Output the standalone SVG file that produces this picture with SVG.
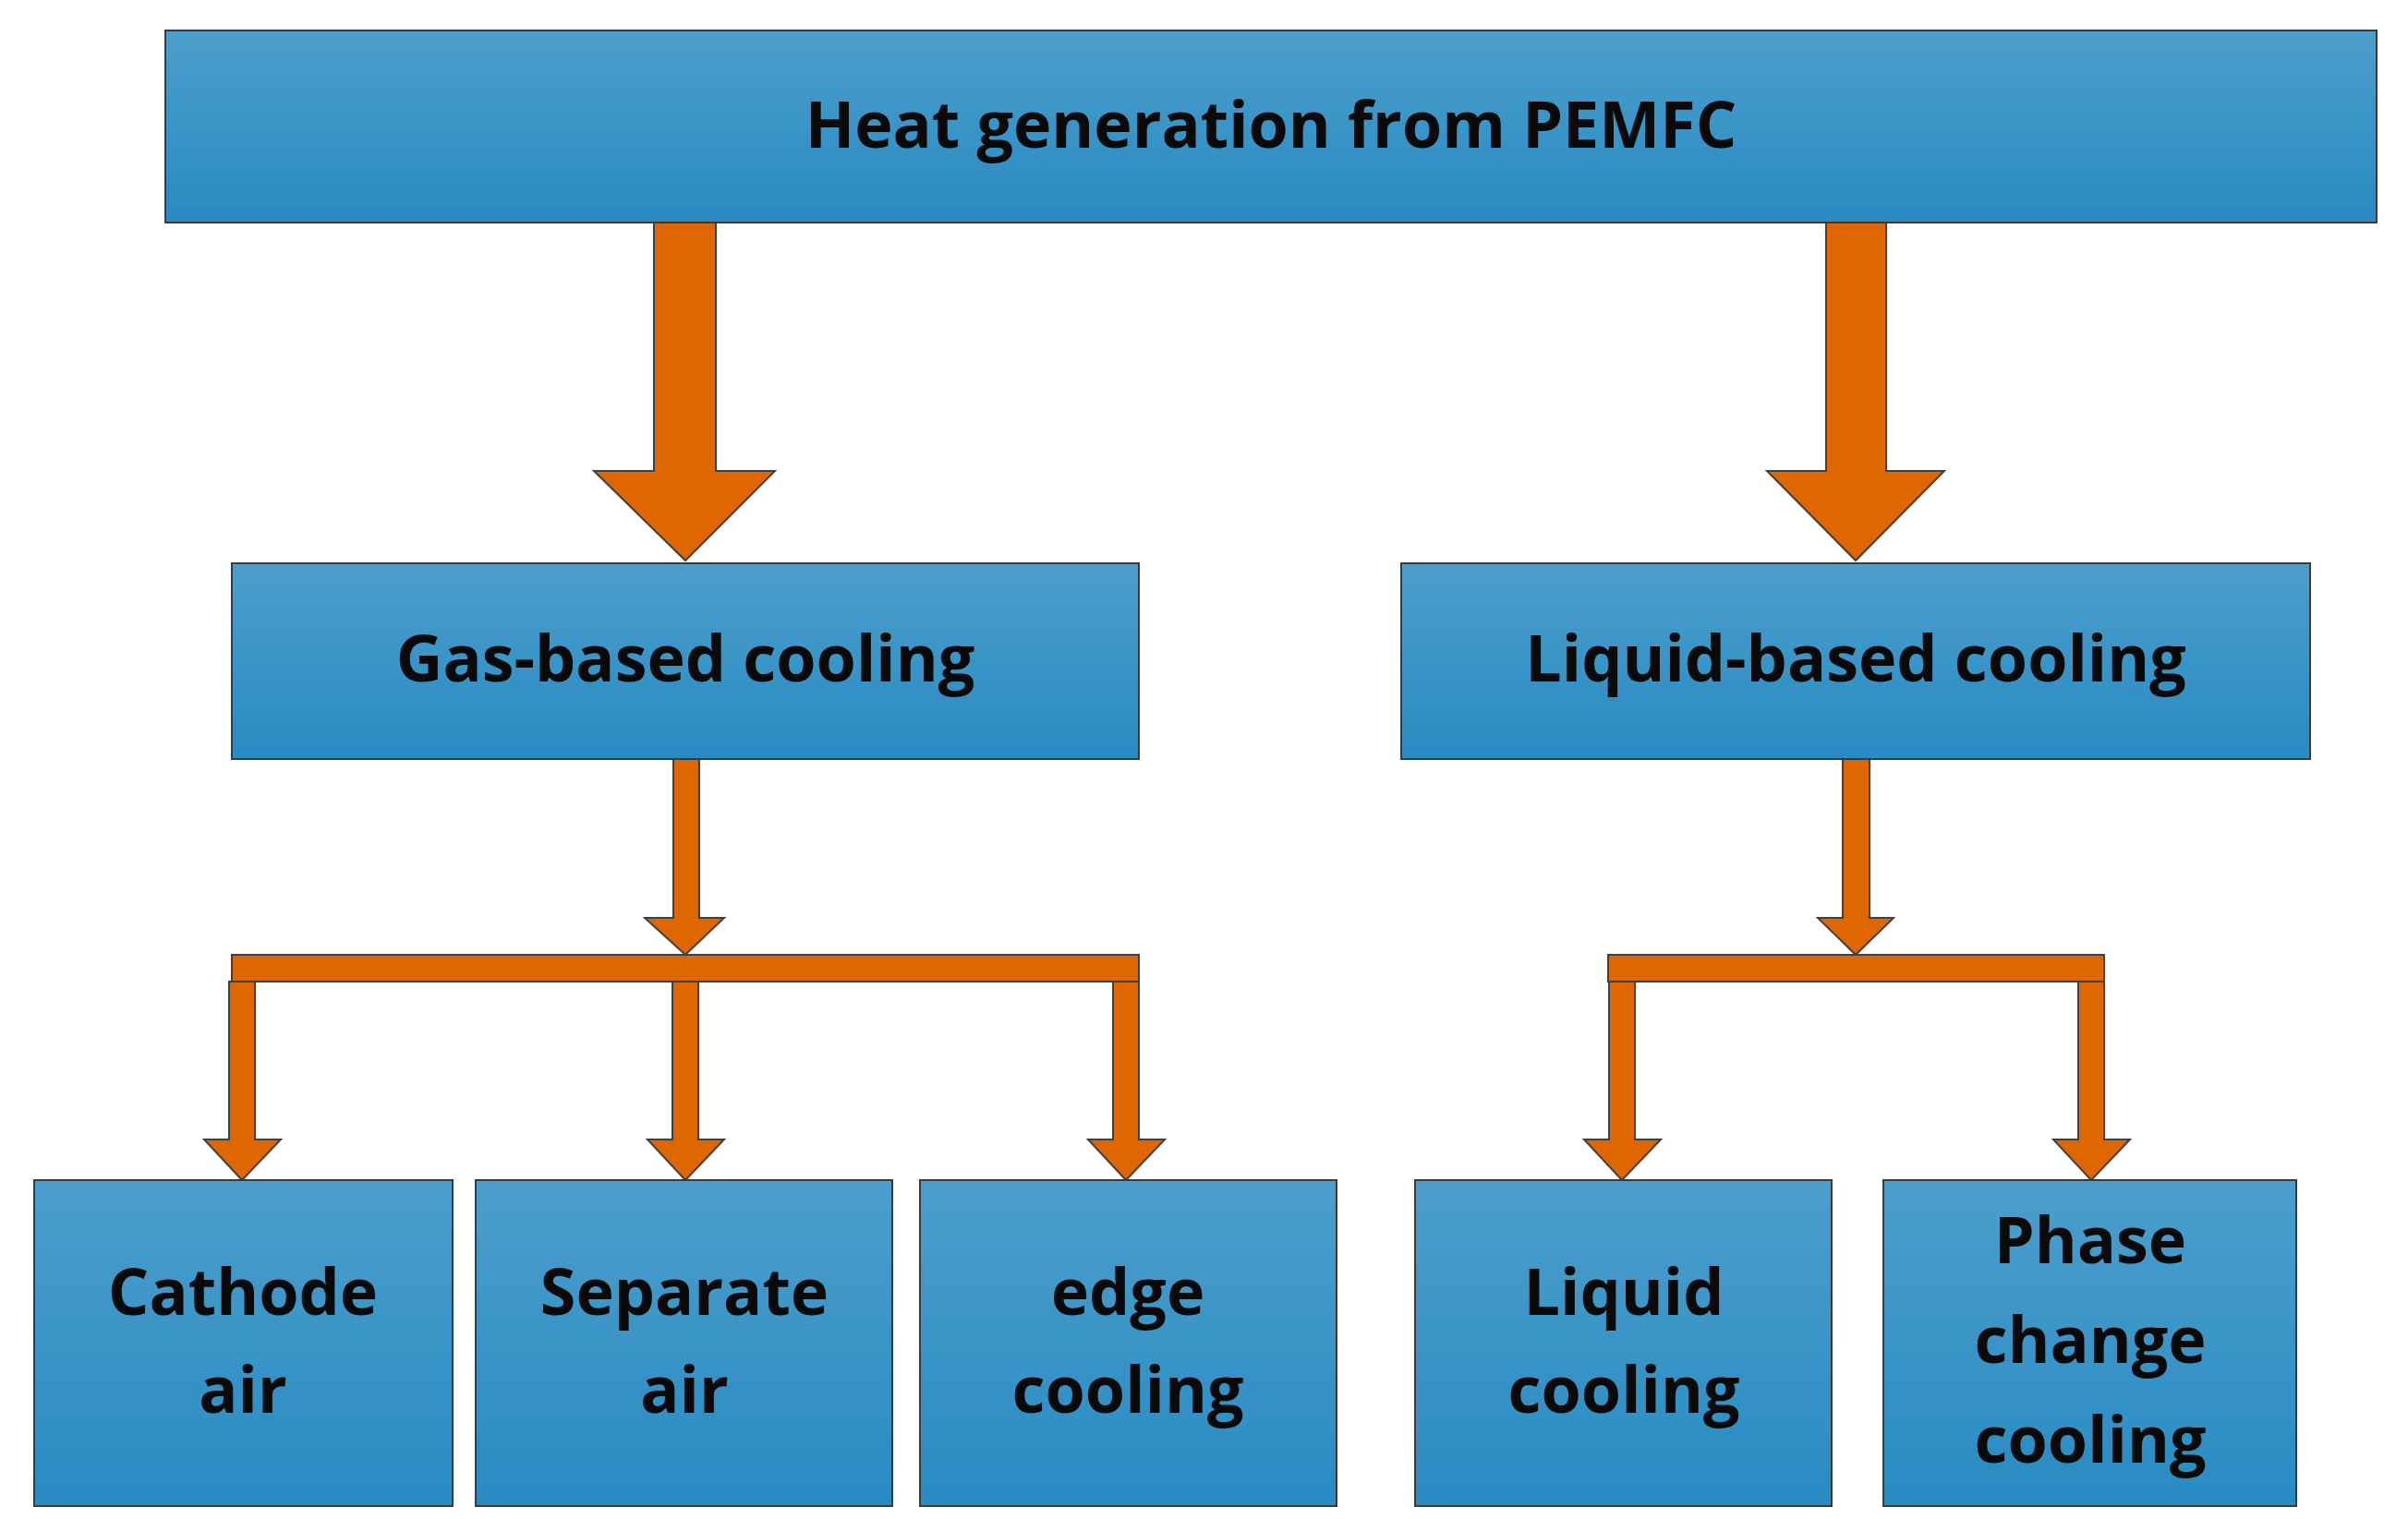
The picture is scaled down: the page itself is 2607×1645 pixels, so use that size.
<svg xmlns="http://www.w3.org/2000/svg" width="2607" height="1645" viewBox="0 0 2607 1645">
<defs>
<linearGradient id="bg" x1="0" y1="0" x2="0" y2="1"><stop offset="0" stop-color="#4c9ecc"/><stop offset="1" stop-color="#288bc2"/></linearGradient>
</defs>
<style>
.box{fill:url(#bg);stroke:#3a3a3a;stroke-width:2}
.ar{fill:#df6600;stroke:#404040;stroke-width:2;stroke-linejoin:miter}
text{font-family:"Open Sans","Liberation Sans",sans-serif;font-weight:bold;fill:#0a0a0a;text-anchor:middle;font-size:70px}
</style>
<rect width="2607" height="1645" fill="#fff"/>
<g id="connectors">
<polygon class="ar" points="708,241 775,241 775,510 839,510 742,607 643,510 708,510"/>
<polygon class="ar" points="1977,241 2042,241 2042,510 2105,510 2009,607 1913,510 1977,510"/>
<polygon class="ar" points="729,822 757,822 757,994 784,994 742,1034 698,994 729,994"/>
<polygon class="ar" points="1995,822 2024,822 2024,994 2050,994 2009,1034 1968,994 1995,994"/>
<rect class="ar" x="251" y="1034" width="982" height="29"/>
<rect class="ar" x="1741" y="1034" width="537" height="29"/>
<polygon class="ar" points="248,1063 276,1063 276,1234 304,1234 262,1278 221,1234 248,1234"/>
<polygon class="ar" points="728,1063 756,1063 756,1234 784,1234 742,1278 701,1234 728,1234"/>
<polygon class="ar" points="1205,1063 1233,1063 1233,1234 1261,1234 1219,1278 1178,1234 1205,1234"/>
<polygon class="ar" points="1742,1063 1770,1063 1770,1234 1798,1234 1756,1278 1715,1234 1742,1234"/>
<polygon class="ar" points="2250,1063 2278,1063 2278,1234 2306,1234 2264,1278 2223,1234 2250,1234"/>
</g>
<g id="top"><rect class="box" x="179" y="33" width="2394" height="208"/><text x="1376" y="160" font-size="72">Heat generation from PEMFC</text></g>
<g id="gas"><rect class="box" x="251" y="610" width="982" height="212"/><text x="742" y="738">Gas-based cooling</text></g>
<g id="liquid"><rect class="box" x="1517" y="610" width="984" height="212"/><text x="2009" y="738">Liquid-based cooling</text></g>
<g id="cathode"><rect class="box" x="37" y="1278" width="453" height="353"/><text x="263" y="1424">Cathode</text><text x="263" y="1530">air</text></g>
<g id="separate"><rect class="box" x="515" y="1278" width="451" height="353"/><text x="741" y="1424">Separate</text><text x="741" y="1530">air</text></g>
<g id="edge"><rect class="box" x="996" y="1278" width="451" height="353"/><text x="1221" y="1424">edge</text><text x="1221" y="1530">cooling</text></g>
<g id="liquidcooling"><rect class="box" x="1532" y="1278" width="451" height="353"/><text x="1758" y="1424">Liquid</text><text x="1758" y="1530">cooling</text></g>
<g id="phase"><rect class="box" x="2039" y="1278" width="447" height="353"/><text x="2263" y="1368">Phase</text><text x="2263" y="1476">change</text><text x="2263" y="1584">cooling</text></g>
</svg>
